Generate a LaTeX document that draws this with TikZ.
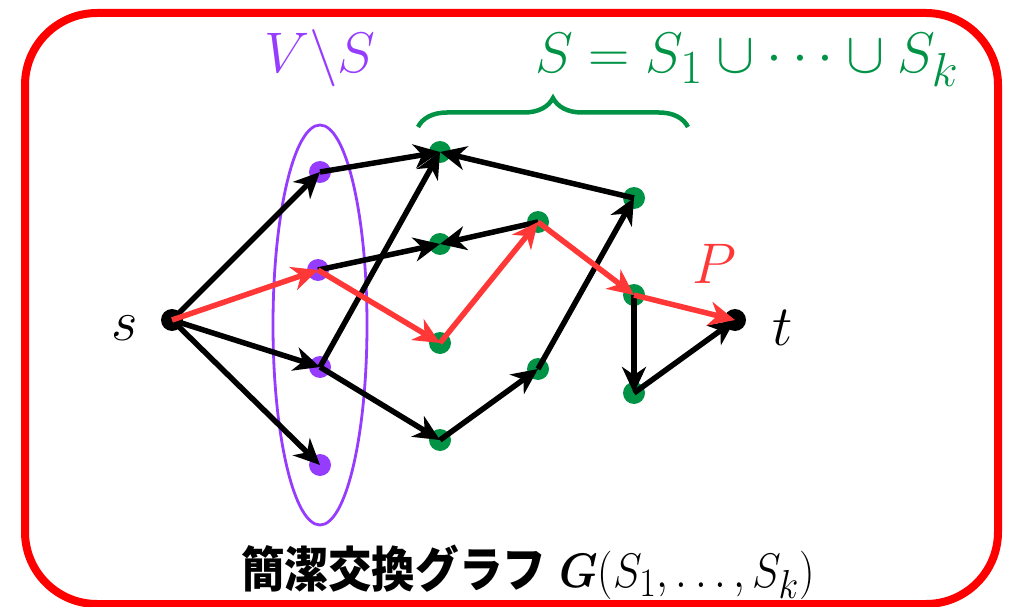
\documentclass[tikz,border=0pt]{standalone}
\usepackage{amsmath,amssymb}
\usepackage{fontspec}
\newfontfamily\cjk{Noto Sans CJK JP}
\usetikzlibrary{arrows.meta,decorations.pathreplacing}
\definecolor{vpurple}{RGB}{150,60,255}
\definecolor{sgreen}{RGB}{0,146,69}
\definecolor{pred}{RGB}{255,55,55}
\definecolor{framered}{RGB}{255,0,0}
\begin{document}
\begin{tikzpicture}[x=1pt,y=-1pt,
 vtx/.style={circle,inner sep=0pt,minimum size=22pt},
 pv/.style={vtx,fill=vpurple},
 gv/.style={vtx,fill=sgreen},
 bv/.style={vtx,fill=black},
 edge/.style={line width=5.5pt,-{Stealth[length=26pt,width=24pt,inset=8pt]}},
 blk/.style={edge,draw=black},
 redge/.style={edge,draw=pred,fill=pred},
 lbl/.style={inner sep=0pt,font=\Huge,scale=2.3},
]
\useasboundingbox (0,0) rectangle (1015,607);
\draw[framered,line width=8pt,rounded corners=72pt] (25,13) rectangle (998,604);

% ellipse V\S
\draw[vpurple,line width=2.8pt] (320,325) ellipse [x radius=47pt,y radius=200pt];

% nodes
\node[bv] (s) at (172,320) {};
\node[bv] (t) at (735,320) {};
\node[pv] (p1) at (320,172) {};
\node[pv] (p2) at (318,270) {};
\node[pv] (p3) at (320,367) {};
\node[pv] (p4) at (320,465) {};
\node[gv] (g1) at (440,152) {};
\node[gv] (g2) at (440,244) {};
\node[gv] (g3) at (440,343) {};
\node[gv] (g4) at (440,440) {};
\node[gv] (g5) at (538,222) {};
\node[gv] (g6) at (538,369) {};
\node[gv] (g7) at (634,198) {};
\node[gv] (g8) at (634,295) {};
\node[gv] (g9) at (634,393) {};

% black edges
\draw[blk] (s.center) -- (p1.center);
\draw[blk] (s.center) -- (p3.center);
\draw[blk] (s.center) -- (p4.center);
\draw[blk] (p1.center) -- (g1.center);
\draw[blk] (p3.center) -- (g1.center);
\draw[blk] (g7.center) -- (g1.center);
\draw[blk] (p2.center) -- (g2.center);
\draw[blk] (g5.center) -- (g2.center);
\draw[blk] (p3.center) -- (g4.center);
\draw[blk] (g4.center) -- (g6.center);
\draw[blk] (g6.center) -- (g7.center);
\draw[blk] (g8.center) -- (g9.center);
\draw[blk] (g9.center) -- (t.center);

% red path
\draw[redge] (s.center) -- (p2.center);
\draw[redge] (p2.center) -- (g3.center);
\draw[redge] (g3.center) -- (g5.center);
\draw[redge] (g5.center) -- (g8.center);
\draw[redge] (g8.center) -- (t.center);

% brace
\coordinate (bl) at (418,127);
\coordinate (br) at (688,127);
\draw[sgreen,line width=4.5pt,decorate,decoration={brace,amplitude=29pt}] (bl) -- (br);

% labels
\node[lbl,text=vpurple] (vs) at (320,58) {$V\backslash S$};
\node[lbl,text=sgreen] (sk) at (747,60) {$S=S_1\cup\cdots\cup S_k$};
\node[lbl] (sl) at (125,328) {$s$};
\node[lbl] (tl) at (783,328) {$t$};
\node[lbl,text=pred] (pl) at (714,264) {$P$};
\node[inner sep=0pt,xscale=1.75,yscale=1.95] (cap) at (528,572) {\Huge\cjk\bfseries 簡潔交換グラフ\hspace{0.3em}\normalfont$\boldsymbol{G}(S_1,\ldots,S_k)$};
\end{tikzpicture}
\end{document}
